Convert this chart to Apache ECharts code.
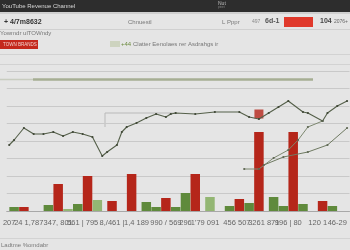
<!DOCTYPE html>
<html><head><meta charset="utf-8">
<script src="https://cdn.jsdelivr.net/npm/echarts@6/dist/echarts.min.js"></script>
<style>html,body{margin:0;padding:0;background:#e5e5e5}#c{width:350px;height:250px}</style>
</head><body><div id="c"></div>
<script>
const slotCount = 70;
const tickLabels = {0:'207',4:'24 1,787',10:'347, 801',15:'561 | 795',21:'8,/461 |',26:'1,4 189',32:'990 / 569',36:'296',40:"1'79 091",45:'456',48:'507',52:'3261 871',57:'996 | 80',63:'120 1',67:'46-29'};
const redBars = [[3,4],[10,27],[16,35],[21,10],[25,37],[32,13],[38,37],[47,12],[51,79],[58,79],[64,10]];
const greenBars = [[1,4],[8,6],[14,7],[28,9],[30,4],[34,4],[36,18],[45,5],[49,8],[54,14],[56,5],[60,7],[66,5]];
const lightGreenBars = [[12,2],[18,11],[41,14]];
const floatBlock = [[51,97]];
const mainLine = [[0,66],[1,71],[3,83],[5,77],[7,77],[9,79],[11,75],[13,79],[15,77],[17,74],[19,55],[20,59],[22,66],[23,79],[24,84],[26,88],[28,93],[30,97],[32,94],[33,97],[34,98],[38,97],[42,99],[47,99],[49,94],[51,92],[53,98],[55,104],[57,110],[60,99],[61,98],[64,90],[65,98],[67,105],[69,110]];
const lineB = [[48,42],[51,42],[54,53],[57,61],[59,71],[61,84],[64,90]];
const lineC = [[52,46],[56,54],[61,59],[65,66],[69,83]];

const categories = Array.from({length: slotCount}, (_, i) => String(i));
const chart = echarts.init(document.getElementById('c'), null, {renderer: 'canvas'});
const F = 'Liberation Sans Narrow, Liberation Sans, sans-serif';
function t(x, y, text, fill, size, weight) {
  return {type: 'text', left: x, top: y, style: {text: text, fill: fill, font: (weight || 'normal') + ' ' + size + 'px ' + F}};
}
function hl(y, x1, x2, color, w) {
  return {type: 'line', shape: {x1: x1, y1: y, x2: x2, y2: y}, style: {stroke: color, lineWidth: w || 1}, silent: true};
}
chart.setOption({
  backgroundColor: '#e5e5e5',
  animation: false,
  grid: {left: 0, right: 0, top: 71, bottom: 39},
  xAxis: {
    type: 'category', data: categories, boundaryGap: true,
    axisLine: {show: true, lineStyle: {color: '#a8a8a8'}},
    axisTick: {show: false},
    axisLabel: {interval: 0, margin: 8, fontSize: 7.5, color: '#666', fontFamily: F,
      formatter: (v, i) => tickLabels[i] || ''}
  },
  yAxis: {
    type: 'value', min: 0, max: 140, interval: 17.5,
    axisLabel: {show: false}, axisLine: {show: false}, axisTick: {show: false},
    splitLine: {show: true, lineStyle: {color: '#c9c9c9', width: 1}}
  },
  graphic: [
    {type: 'rect', shape: {x: 0, y: 0, width: 350, height: 12}, style: {fill: '#2d2d2d'}},
    {type: 'rect', shape: {x: 0, y: 12, width: 350, height: 2}, style: {fill: '#cfcfcf'}},
    t(2, 3, 'YouTube Revenue Channel', '#d8d8d8', 6),
    t(218, 1, 'Nut', '#bdbdbd', 5),
    t(218, 6, 'pinet', '#888', 3),
    t(4, 19, '+ 4/7m8632', '#333', 7, 'bold'),
    t(128, 19, 'Chnuestl', '#777', 6),
    t(222, 19, 'L Pppr', '#777', 6),
    t(252, 19, '497', '#888', 5),
    t(265, 18, '6d-1', '#555', 7, 'bold'),
    {type: 'rect', shape: {x: 284, y: 17, width: 29, height: 10}, style: {fill: '#e0392b'}},
    t(320, 18, '104', '#444', 7, 'bold'),
    t(334, 19, '2076+', '#666', 5),
    hl(29.5, 0, 350, '#d0d0d0'),
    t(0, 30, 'Yowmdr ulTOWndy', '#777', 6),
    {type: 'rect', shape: {x: 0, y: 40, width: 38, height: 9}, style: {fill: '#c4291d'}},
    t(3, 42, 'TOWN BRANDS', '#f2d0cc', 4.5),
    {type: 'rect', shape: {x: 110, y: 41, width: 10, height: 6}, style: {fill: '#cdd3bf'}},
    t(121, 41, '+44', '#6d8c40', 6),
    t(133, 41, 'Clatter Eenolaes rer Asdrahgs ir', '#777', 6),
    hl(54.5, 0, 350, '#d2d2d2'),
    hl(64.5, 0, 350, '#d2d2d2'),
    hl(79.5, 0, 33, '#c8ccbf', 1.5),
    hl(79.5, 33, 313, '#a6ae93', 2.5),
    {type: 'polyline', shape: {points: [[105, 127], [105, 113], [175, 113]]}, style: {stroke: '#b9b9b9', fill: null, lineWidth: 1}},
    hl(238.5, 0, 350, '#d3d3d3'),
    t(1, 242, 'Ladtme %omdabr', '#7a7a7a', 6)
  ],
  series: [
    {type: 'bar', name: 'red', data: redBars, barWidth: 9.5, barGap: '-100%', itemStyle: {color: '#b5261a'}, z: 2},
    {type: 'bar', name: 'green', data: greenBars, barWidth: 9.5, barGap: '-100%', itemStyle: {color: '#5f8a3c'}, z: 2},
    {type: 'bar', name: 'lightgreen', data: lightGreenBars, barWidth: 9.5, barGap: '-100%', itemStyle: {color: '#93b673'}, z: 2},
    {type: 'scatter', data: floatBlock, symbol: 'rect', symbolSize: [9, 9], itemStyle: {color: '#b5261a'}, z: 3},
    {type: 'line', data: mainLine, symbol: 'circle', symbolSize: 2.2, showSymbol: true,
      lineStyle: {color: '#55604a', width: 1.1}, itemStyle: {color: '#3f4736'}, z: 4},
    {type: 'line', data: lineB, symbol: 'circle', symbolSize: 2.2,
      lineStyle: {color: '#7d8870', width: 1}, itemStyle: {color: '#5d6652'}, z: 4},
    {type: 'line', data: lineC, symbol: 'circle', symbolSize: 2.2,
      lineStyle: {color: '#6f7a62', width: 1}, itemStyle: {color: '#5d6652'}, z: 4}
  ]
});
</script></body></html>
